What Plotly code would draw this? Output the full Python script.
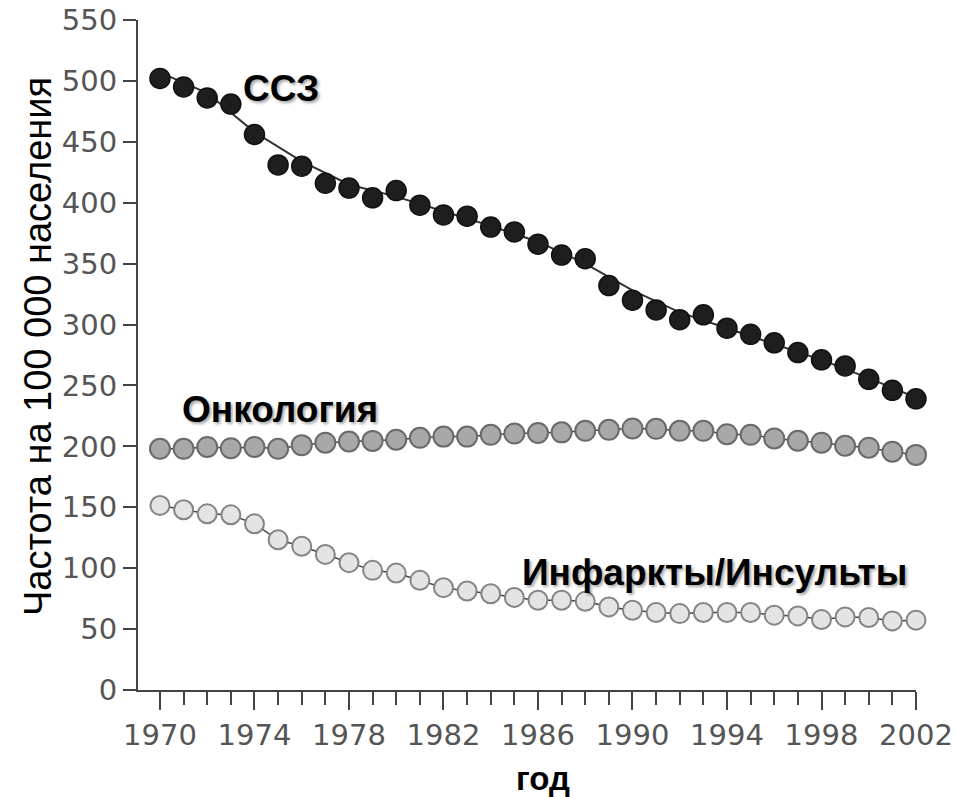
import plotly.graph_objects as go

years = list(range(1970, 2003))

# ССЗ (cardiovascular) observed points
css_values = [502, 495, 486, 481, 456, 431, 430, 416, 412, 404, 410, 398, 390, 389,
              380, 376, 366, 357, 354, 332, 320, 312, 304, 308, 297, 292, 285, 277,
              271, 266, 255, 246, 239]
# ССЗ trend line
trend_years = [1970, 1972, 1974, 1976, 1978, 1980, 1982, 1984, 1986, 1988, 1990,
               1992, 1994, 1996, 1998, 2000, 2002]
trend_values = [507, 490, 458, 434, 415, 405, 393, 381, 368, 350, 328, 310, 297,
                284, 271, 256, 240]
# Онкология
onco_values = [198, 198, 199.5, 198.5, 199.5, 198, 201, 203, 204, 204.5, 205.5, 207,
               208, 208, 209.5, 210.5, 211, 211.5, 212.8, 213.6, 214.7, 214.4, 212.8,
               212.8, 210, 209.5, 206.5, 204.6, 203, 200.5, 198.9, 195.6, 193]
# Инфаркты/Инсульты
stroke_values = [151.5, 148, 144.6, 143.8, 136.4, 123.3, 118, 111.3, 104.5, 98.2, 96,
                 90, 84, 81.3, 79, 76, 73.7, 73.7, 72.8, 68.2, 65.5, 63.6, 62.7, 63.6,
                 63.6, 63.6, 61.4, 60.8, 57.8, 60, 59.5, 56.7, 57.3]

x_ticks = [1970, 1974, 1978, 1982, 1986, 1990, 1994, 1998, 2002]
y_ticks = [0, 50, 100, 150, 200, 250, 300, 350, 400, 450, 500, 550]

labels = ["ССЗ", "Онкология", "Инфаркты/Инсульты"]
label_x = [1975.12, 1975.06, 1993.49]
label_y = [493.5, 230.4, 96.6]

y_title = "Частота на 100 000 населения"
x_title = "год"

W, H = 955, 797
ML, MT, MR, MB = 138, 20, 39, 107
PW = W - ML - MR
PH = H - MT - MB


def px_to_paper(px, py):
    return (px - ML) / PW, (H - MB - py) / PH


fig = go.Figure()

fig.add_trace(go.Scatter(x=trend_years, y=trend_values, mode="lines",
                         line=dict(color="#333333", width=2), hoverinfo="skip",
                         cliponaxis=False))
fig.add_trace(go.Scatter(x=years, y=css_values, mode="markers",
                         marker=dict(size=20, color="#1e1e1e",
                                     line=dict(color="#111111", width=1.5)),
                         cliponaxis=False))
fig.add_trace(go.Scatter(x=years, y=onco_values, mode="lines+markers",
                         line=dict(color="#444444", width=1.5),
                         marker=dict(size=20, color="#a8a8a8",
                                     line=dict(color="#6a6a6a", width=2)),
                         cliponaxis=False))
fig.add_trace(go.Scatter(x=years, y=stroke_values, mode="lines+markers",
                         line=dict(color="#444444", width=1.5),
                         marker=dict(size=19, color="#e4e4e4",
                                     line=dict(color="#858585", width=2)),
                         cliponaxis=False))

shadow = "2px 2px 3px rgba(0,0,0,0.35)"
for t, lx, ly in zip(labels, label_x, label_y):
    fig.add_annotation(x=lx, y=ly, xref="x", yref="y", text="<b>" + t + "</b>",
                       showarrow=False, xanchor="center", yanchor="middle",
                       font=dict(family="Liberation Sans, Arial", size=37,
                                 color="#000000", shadow=shadow))

# axis titles (placed by pixel position)
tx, ty = px_to_paper(38, 347)
fig.add_annotation(x=tx, y=ty, xref="paper", yref="paper", text=y_title,
                   showarrow=False, textangle=-90, xanchor="center", yanchor="middle",
                   font=dict(family="Liberation Sans, Arial", size=38, color="#000000"))
gx, gy = px_to_paper(543, 778)
fig.add_annotation(x=gx, y=gy, xref="paper", yref="paper", text="<b>" + x_title + "</b>",
                   showarrow=False, xanchor="center", yanchor="middle",
                   font=dict(family="Liberation Sans, Arial", size=33, color="#000000"))

axis_color = "#444444"
fig.update_layout(
    width=W, height=H,
    margin=dict(l=ML, r=MR, t=MT, b=MB, autoexpand=False),
    paper_bgcolor="white", plot_bgcolor="white",
    showlegend=False,
    font=dict(family="DejaVu Sans", size=29, color="#555555"),
    xaxis=dict(range=[1969.07, 2002], tickvals=x_ticks, ticktext=[str(v) for v in x_ticks],
               automargin=False, ticklabeloverflow="allow",
               showgrid=False, zeroline=False, showline=True, linecolor=axis_color,
               linewidth=2, ticks="outside", ticklen=18, tickwidth=2, tickcolor=axis_color,
               minor=dict(dtick=1, tick0=1970, ticks="outside", ticklen=13, tickwidth=2,
                          tickcolor=axis_color, showgrid=False),
               tickfont=dict(family="DejaVu Sans", size=29, color="#555555")),
    yaxis=dict(range=[0, 550], tickvals=y_ticks, showgrid=False, zeroline=False,
               automargin=False, ticklabeloverflow="allow",
               showline=True, linecolor=axis_color, linewidth=2, ticks="outside",
               ticklen=13, tickwidth=2, tickcolor=axis_color,
               tickfont=dict(family="DejaVu Sans", size=29, color="#555555")),
)

fig.write_html("out.html",
               config={"displayModeBar": False},
               post_script="document.body.style.margin='0';"
                           "document.body.style.overflow='hidden';")
